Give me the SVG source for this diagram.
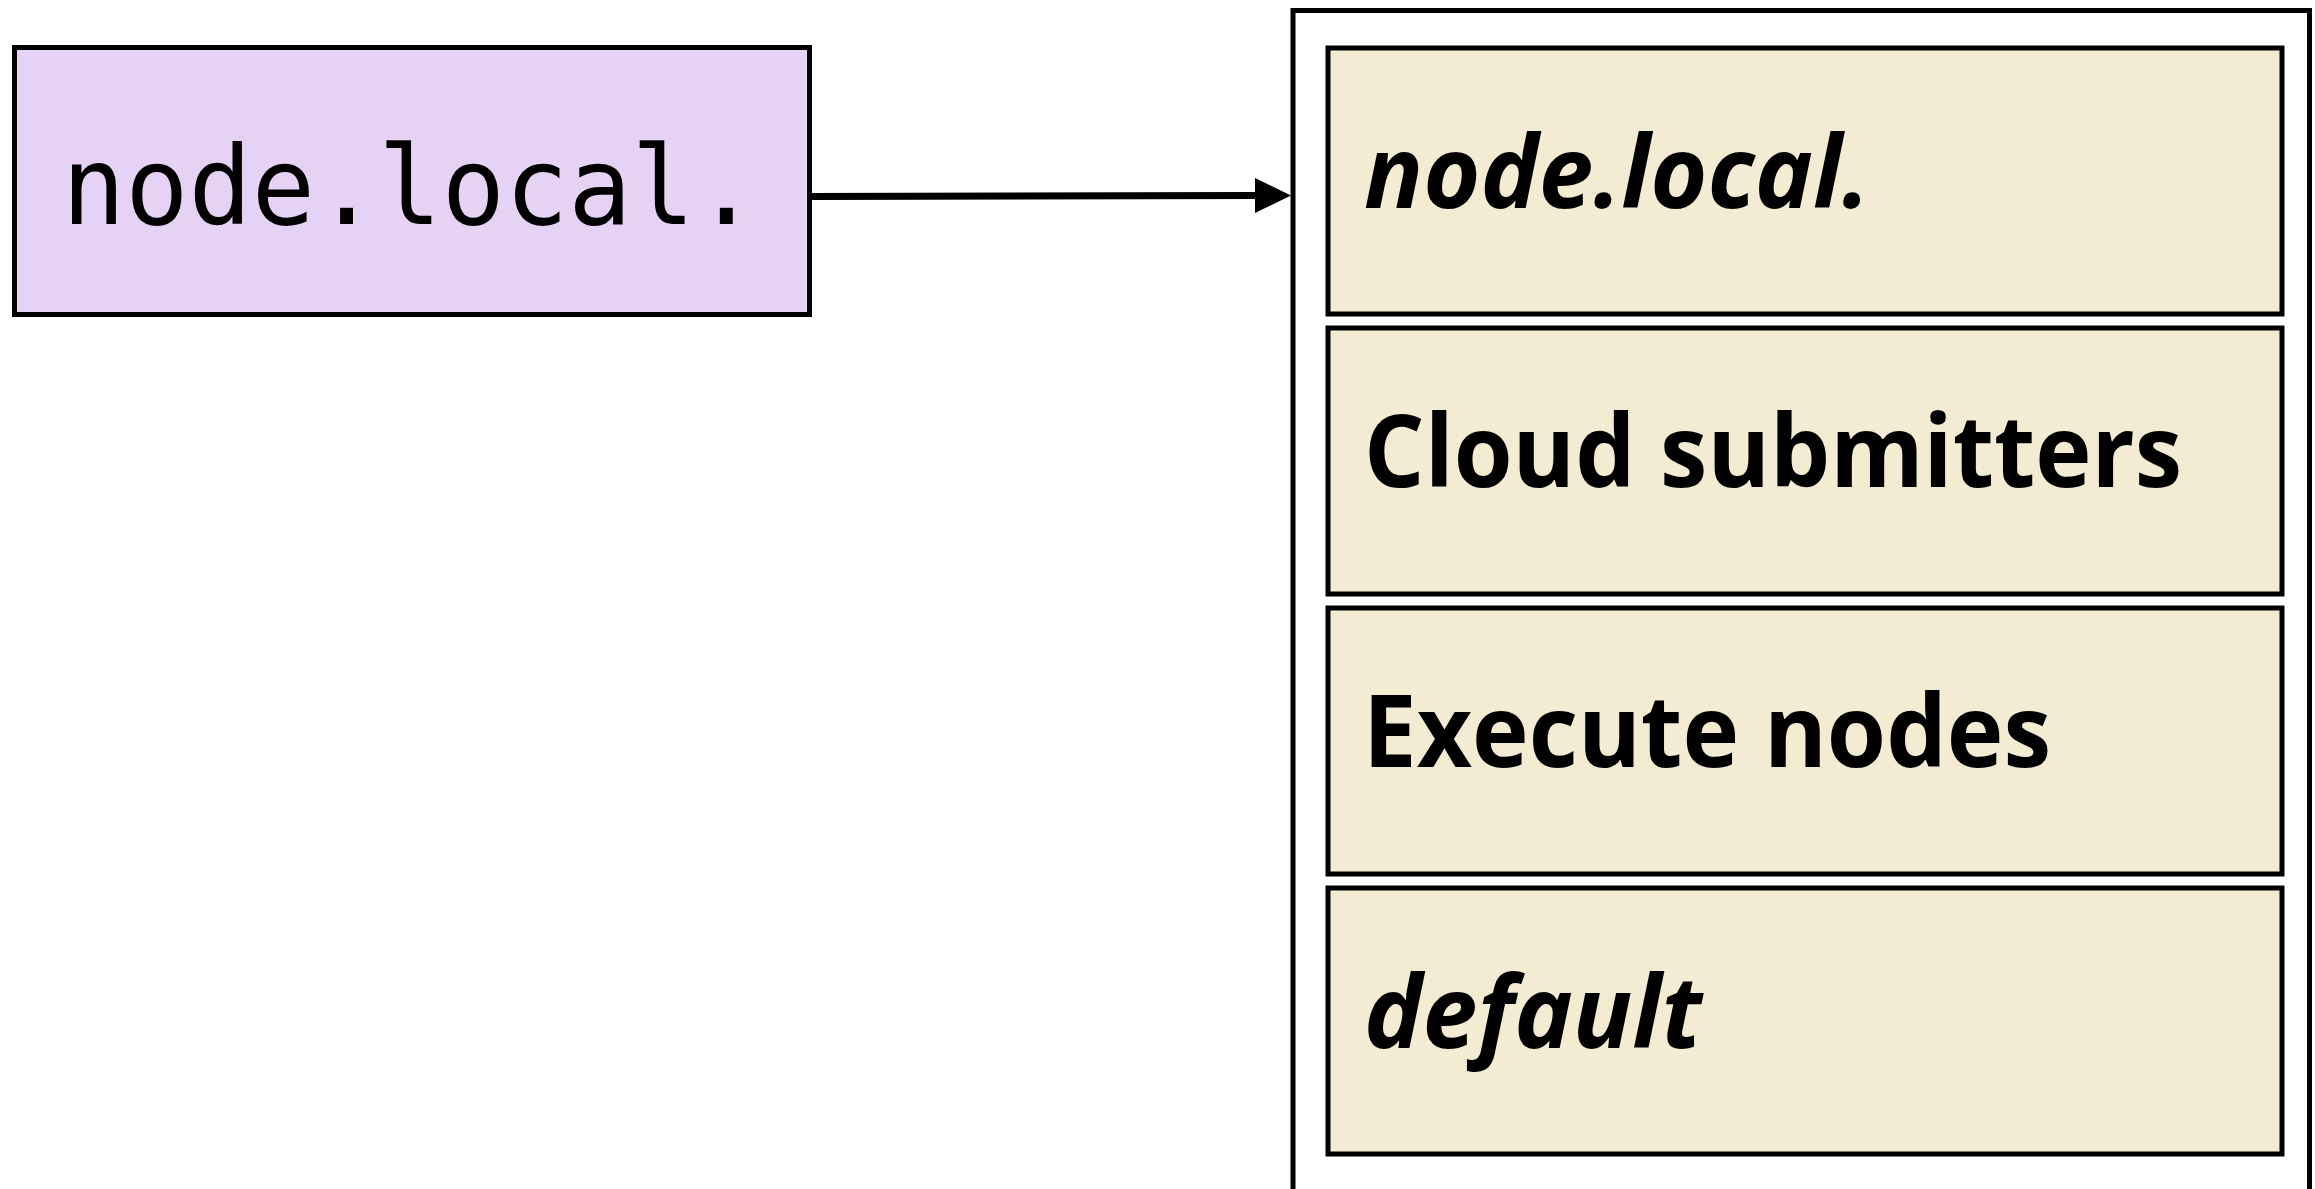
<svg xmlns="http://www.w3.org/2000/svg" width="2315" height="1189" viewBox="0 0 2315 1189">
  <style>
    .box { stroke: #000; stroke-width: 5; }
    .src { fill: #E6D2F4; }
    .entry { fill: #F3EBD2; }
    .frame { fill: #FFFFFF; stroke: #000; stroke-width: 5; }
    .mono { font-family: "DejaVu Sans Mono", "Liberation Mono", monospace; font-size: 108px; fill: #000; }
    .label { font-family: "Open Sans", "Noto Sans", "Liberation Sans", sans-serif; font-size: 100px; font-weight: 700; fill: #000; }
    .it { font-style: italic; }
    .conn { stroke: #000; stroke-width: 7; fill: none; }
  </style>
  <defs>
    <marker id="arrowhead" markerUnits="userSpaceOnUse" markerWidth="36" markerHeight="35" viewBox="0 0 36 35" refX="1" refY="17.5" orient="auto">
      <path d="M0,0 L36,17.5 L0,35 Z" fill="#000"/>
    </marker>
  </defs>

  <rect width="2315" height="1189" fill="#FFFFFF"/>

  <!-- source hostname -->
  <g id="node-source">
    <rect class="box src" x="14.5" y="47.5" width="795" height="267"/>
    <text class="mono" x="62" y="224" textLength="696" lengthAdjust="spacingAndGlyphs">node.local.</text>
  </g>

  <!-- lookup list container -->
  <g id="node-list">
    <rect class="frame" x="1293" y="10.5" width="1016.5" height="1200"/>
  </g>

  <g id="node-entry-host">
    <rect class="box entry" x="1328" y="48" width="954" height="266"/>
    <text class="label it" x="1364" y="208" textLength="506" lengthAdjust="spacingAndGlyphs">node.local.</text>
  </g>

  <g id="node-entry-cloud">
    <rect class="box entry" x="1328" y="328" width="954" height="266"/>
    <text class="label" x="1364" y="487" textLength="818" lengthAdjust="spacingAndGlyphs">Cloud submitters</text>
  </g>

  <g id="node-entry-execute">
    <rect class="box entry" x="1328" y="608" width="954" height="266"/>
    <text class="label" x="1363" y="767" textLength="688" lengthAdjust="spacingAndGlyphs">Execute nodes</text>
  </g>

  <g id="node-entry-default">
    <rect class="box entry" x="1328" y="888" width="954" height="266"/>
    <text class="label it" x="1364" y="1048" textLength="338" lengthAdjust="spacingAndGlyphs">default</text>
  </g>

  <!-- connectors -->
  <g id="connectors">
    <path class="conn" d="M812,196.5 L1256,195.5" marker-end="url(#arrowhead)"/>
  </g>
</svg>
